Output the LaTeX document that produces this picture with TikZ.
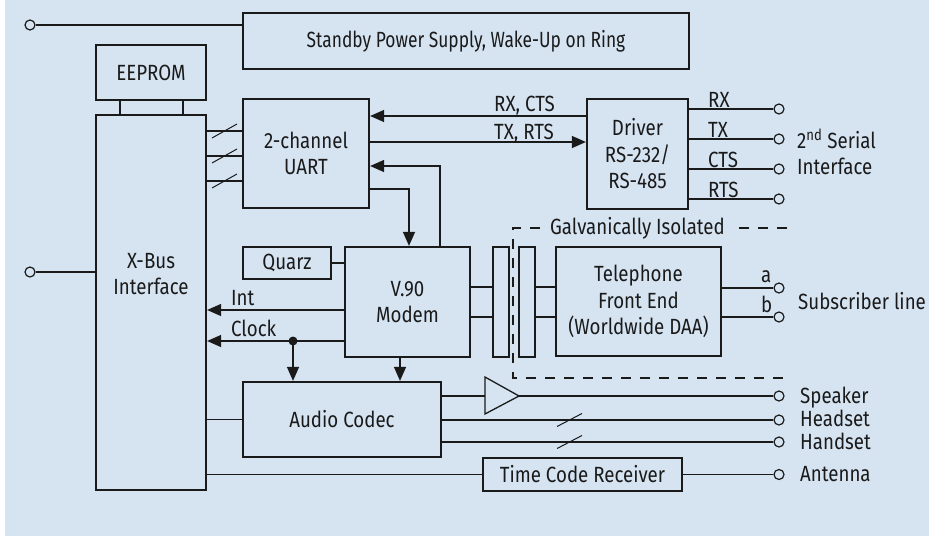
\documentclass[tikz,border=0pt]{standalone}
\usepackage{fontspec}
\setmainfont{Fira Sans}[FakeStretch=0.85]
\usetikzlibrary{arrows.meta,calc}
\definecolor{bg}{RGB}{214,228,242}
\definecolor{ink}{RGB}{26,26,26}
\begin{document}
\begin{tikzpicture}[x=1pt,y=-1pt,
  every node/.style={font=\fontsize{22}{26.5}\selectfont, text=ink},
  box/.style={draw=ink, line width=2.2pt, fill=bg, inner sep=0pt, align=center},
  wire/.style={draw=ink, line width=1.3pt},
  thin/.style={draw=ink, line width=1pt},
  arr/.style={wire, -{Triangle[length=14pt,width=12pt]}},
  term/.style={circle, draw=ink, line width=1.2pt, fill=bg, minimum size=10pt, inner sep=0pt},
  lbl/.style={inner sep=0pt, anchor=base west},
  isoline/.style={draw=ink, line width=1.2pt, dash pattern=on 10pt off 9pt}]
\useasboundingbox (0,0) rectangle (929,536);
\fill[bg] (5,0) rectangle (929,536);

% isolation boundary
\draw[isoline] (787,228) -- (513,228) -- (513,378) -- (783,378);
\node[fill=bg, inner xsep=8pt, inner ysep=2pt] (galv) at (637.5,228) {Galvanically Isolated};

% boxes
\node[box, minimum width=446pt, minimum height=56pt] (standby) at (466,41) {\scalebox{0.93}[1]{Standby Power Supply, Wake-Up on Ring}};
\node[box, minimum width=110pt, minimum height=55pt] (eeprom) at (151,72.5) {EEPROM};
\node[box, minimum width=110pt, minimum height=375pt] (xbus) at (151,302.5) {};
\node[inner sep=0pt, align=center] (xbustext) at (151,274) {X-Bus\\Interface};
\node[box, minimum width=126pt, minimum height=109pt] (uart) at (306,153.5) {2-channel\\UART};
\node[box, minimum width=101pt, minimum height=110pt] (driver) at (637.5,154) {Driver\\RS-232/\\RS-485};
\node[box, minimum width=88pt, minimum height=32pt] (quarz) at (287,263) {Quarz};
\node[box, minimum width=125pt, minimum height=110pt] (modem) at (407.5,302) {V.90\\Modem};
\node[box, line width=2pt, minimum width=16pt, minimum height=110pt] (bar1) at (501,302) {};
\node[box, line width=2pt, minimum width=16pt, minimum height=110pt] (bar2) at (527,302) {};
\node[box, minimum width=165pt, minimum height=109pt] (tel) at (638.5,301.5) {Telephone\\Front End\\(Worldwide DAA)};
\node[box, minimum width=198pt, minimum height=75pt] (codec) at (342,419.5) {Audio Codec};
\node[box, minimum width=199pt, minimum height=33pt] (tcr) at (582.5,474.5) {Time Code Receiver};

% terminals
\node[term] (tpwr) at (30,25) {};
\node[term] (txbus) at (30,272) {};
\node[term] (trx) at (779,109) {};
\node[term] (ttx) at (779,139) {};
\node[term] (tcts) at (779,169) {};
\node[term] (trts) at (779,199) {};
\node[term] (ta) at (779,288) {};
\node[term] (tb) at (779,317) {};
\node[term] (tspk) at (779,396) {};
\node[term] (thead) at (779,420) {};
\node[term] (thand) at (779,442) {};
\node[term] (tant) at (779,474.5) {};

% left side
\draw[wire] (tpwr) -- (tpwr -| standby.west);
\draw[wire] (txbus) -- (txbus -| xbus.west);
\draw[wire] ([xshift=25pt]eeprom.south west) -- ([xshift=25pt]eeprom.south west |- xbus.north);
\draw[wire] ([xshift=-24pt]eeprom.south east) -- ([xshift=-24pt]eeprom.south east |- xbus.north);
\foreach \y in {131,156,181} {
  \draw[wire] (xbus.east |- 0,\y) -- (uart.west |- 0,\y);
  \draw[thin] (212,\y+7) -- (237,\y-7);
}

% UART <-> driver
\draw[arr] (driver.west |- 0,116) -- (uart.east |- 0,116);
\draw[arr] (uart.east |- 0,142) -- (driver.west |- 0,142);
\node[lbl] (lrxcts) at (494,111) {RX, CTS};
\node[lbl] (ltxrts) at (494,139) {TX, RTS};

% UART <-> modem
\draw[arr] (uart.east |- 0,189) -| ([xshift=1.5pt]modem.north);
\draw[arr] ([xshift=32.5pt]modem.north) |- (uart.east |- 0,166);
\draw[wire] (quarz.east) -- (quarz.east -| modem.west);

% modem -> X-Bus
\draw[arr] (modem.west |- 0,310) -- (xbus.east |- 0,310);
\node[lbl] (lint) at (231,305) {Int};
\draw[arr] (modem.west |- 0,341) -- (xbus.east |- 0,341);
\node[lbl] (lclock) at (231,336) {Clock};
\coordinate (dot) at (293,341);
\fill[ink] (dot) circle (4.5pt);
\draw[arr] (dot) -- (dot |- codec.north);
\draw[arr] ([xshift=-7.5pt]modem.south) -- ([xshift=-7.5pt]modem.south |- codec.north);
\draw[wire] (codec.west) -- (codec.west -| xbus.east);

% modem - isolation - telephone
\foreach \y in {287,317} {
  \draw[wire] (modem.east |- 0,\y) -- (bar1.west |- 0,\y);
  \draw[wire] (bar2.east |- 0,\y) -- (tel.west |- 0,\y);
}

% driver outputs
\draw[wire] (driver.east |- trx) -- (trx);
\draw[wire] (driver.east |- ttx) -- (ttx);
\draw[wire] (driver.east |- tcts) -- (tcts);
\draw[wire] (driver.east |- trts) -- (trts);
\node[lbl] (lrx) at (708,107) {RX};
\node[lbl] (ltx) at (708,137) {TX};
\node[lbl] (lcts) at (708,167) {CTS};
\node[lbl] (lrts) at (708,197) {RTS};
\node[anchor=west, align=left, inner sep=0pt] (lserial) at (797,152) {2\textsuperscript{nd} Serial\\Interface};

% subscriber line
\draw[wire] (tel.east |- ta) -- (ta);
\draw[wire] (tel.east |- tb) -- (tb);
\node[lbl] (la) at (761,282) {a};
\node[lbl] (lb) at (761,312) {b};
\node[lbl] (lsub) at (798,309) {Subscriber line};

% audio outputs
\coordinate (ampin) at (485,396);
\coordinate (ampout) at (519,396);
\draw[wire] (codec.east |- ampin) -- (ampin);
\draw[wire] (485,377) -- (ampout) -- (485,414) -- cycle;
\draw[wire] (ampout) -- (tspk);
\draw[wire] (codec.east |- thead) -- (thead);
\draw[wire] (codec.east |- thand) -- (thand);
\draw[thin] (557,426.5) -- (582,413.5);
\draw[thin] (557,448.5) -- (582,435.5);
\draw[wire] (xbus.east |- tcr.west) -- (tcr.west);
\draw[wire] (tcr.east) -- (tant);
\node[lbl] (lspk) at (800,403) {Speaker};
\node[lbl] (lhead) at (800,426) {Headset};
\node[lbl] (lhand) at (800,449) {Handset};
\node[lbl] (lant) at (800,481) {Antenna};
\end{tikzpicture}
\end{document}
